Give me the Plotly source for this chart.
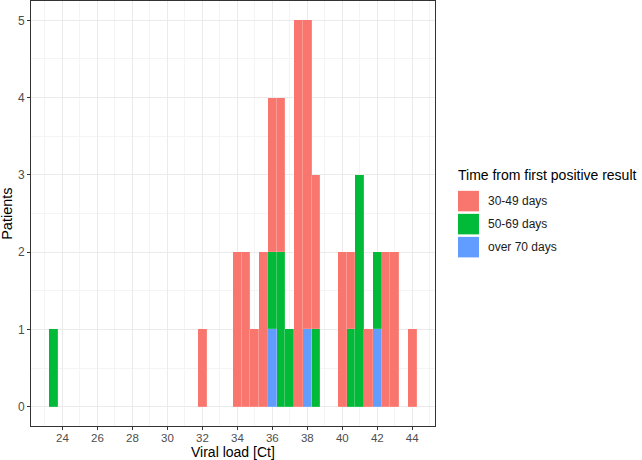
import plotly.graph_objects as go

# histogram bins (centre of each 0.5 Ct bin) and patient counts per group
bins_30_49 = [32, 34, 34.5, 35, 35.5, 36, 36.5, 37.5, 38, 38.5, 40, 40.5, 41.5, 42.5, 43, 44]
counts_30_49 = [1, 2, 2, 1, 2, 2, 2, 5, 4, 2, 2, 1, 1, 2, 2, 1]

bins_50_69 = [23.5, 36, 36.5, 37, 38.5, 40.5, 41, 42]
counts_50_69 = [1, 1, 2, 1, 1, 1, 3, 1]

bins_over_70 = [36, 38, 42]
counts_over_70 = [1, 1, 1]

group_labels = ["30-49 days", "50-69 days", "over 70 days"]
COLORS = ["#F8766D", "#00BA38", "#619CFF"]
BIN_WIDTH = 0.5

W, H = 642, 460
L, R, T, B = 30.7, 435, 1, 425.7
FONT = "Liberation Sans, Arial, sans-serif"


def px_x(x):
    return (x - L) / (R - L)


def px_y(y):
    return (B - y) / (B - T)


fig = go.Figure()

# ggplot stacks the first level on top, so draw from the last group up
for name, xs, ys, col in [
    (group_labels[2], bins_over_70, counts_over_70, COLORS[2]),
    (group_labels[1], bins_50_69, counts_50_69, COLORS[1]),
    (group_labels[0], bins_30_49, counts_30_49, COLORS[0]),
]:
    fig.add_trace(go.Bar(
        x=xs, y=ys, width=BIN_WIDTH, name=name,
        marker=dict(color=col, line=dict(width=0.4, color="rgba(255,255,255,0.35)")),
        showlegend=False,
    ))

# hand-built legend to mimic ggplot's large keys
shapes = []
annotations = [dict(
    text="Time from first positive result", xref="paper", yref="paper",
    x=px_x(456.5), y=px_y(175), xanchor="left", yanchor="middle",
    showarrow=False, font=dict(family=FONT, size=14, color="#000000"),
)]
for i, (lab, col) in enumerate(zip(group_labels, COLORS)):
    top = 190.7 + i * 23
    shapes.append(dict(
        type="rect", xref="paper", yref="paper",
        x0=px_x(458), x1=px_x(479), y0=px_y(top + 20.5), y1=px_y(top),
        fillcolor=col, line=dict(width=0),
    ))
    annotations.append(dict(
        text=lab, xref="paper", yref="paper",
        x=px_x(486.5), y=px_y(top + 10.5), xanchor="left", yanchor="middle",
        showarrow=False, font=dict(family=FONT, size=12, color="#1A1A1A"),
    ))

# axis titles
annotations.append(dict(
    text="Viral load [Ct]", xref="paper", yref="paper",
    x=0.5, y=px_y(460.5), xanchor="center", yanchor="bottom", borderpad=0,
    showarrow=False, font=dict(family=FONT, size=14, color="#000000"),
))
annotations.append(dict(
    text="Patients", xref="paper", yref="paper",
    x=px_x(6), y=0.5, xanchor="center", yanchor="middle", textangle=-90,
    showarrow=False, font=dict(family=FONT, size=14.5, color="#000000"),
))

fig.update_layout(
    width=W, height=H,
    barmode="stack", bargap=0,
    plot_bgcolor="white", paper_bgcolor="white",
    margin=dict(l=L, r=W - R, t=T, b=H - B, autoexpand=False),
    font=dict(family=FONT, size=12, color="#4D4D4D"),
    shapes=shapes, annotations=annotations,
    showlegend=False,
)

fig.update_xaxes(
    range=[22.2, 45.3], tick0=24, dtick=2,
    showgrid=True, gridcolor="#EBEBEB", gridwidth=1,
    minor=dict(dtick=1, tick0=23, showgrid=True, gridcolor="#F4F4F4", gridwidth=0.6),
    showline=True, mirror=True, linecolor="#333333", linewidth=1,
    ticks="outside", ticklen=3, tickcolor="#333333",
    tickfont=dict(family=FONT, size=11.5, color="#4D4D4D"),
    ticklabelstandoff=-2,
    zeroline=False,
)
fig.update_yaxes(
    range=[-0.25, 5.25], tick0=0, dtick=1,
    showgrid=True, gridcolor="#EBEBEB", gridwidth=1,
    minor=dict(dtick=0.5, tick0=0.5, showgrid=True, gridcolor="#F4F4F4", gridwidth=0.6),
    showline=True, mirror=True, linecolor="#333333", linewidth=1,
    ticks="outside", ticklen=3, tickcolor="#333333",
    tickfont=dict(family=FONT, size=12, color="#4D4D4D"),
    zeroline=False,
)

# drop the browser's default body margin so the figure sits at the page corner
fig.write_html("out.html", config={"displayModeBar": False},
               post_script="document.body.style.margin='0';")
